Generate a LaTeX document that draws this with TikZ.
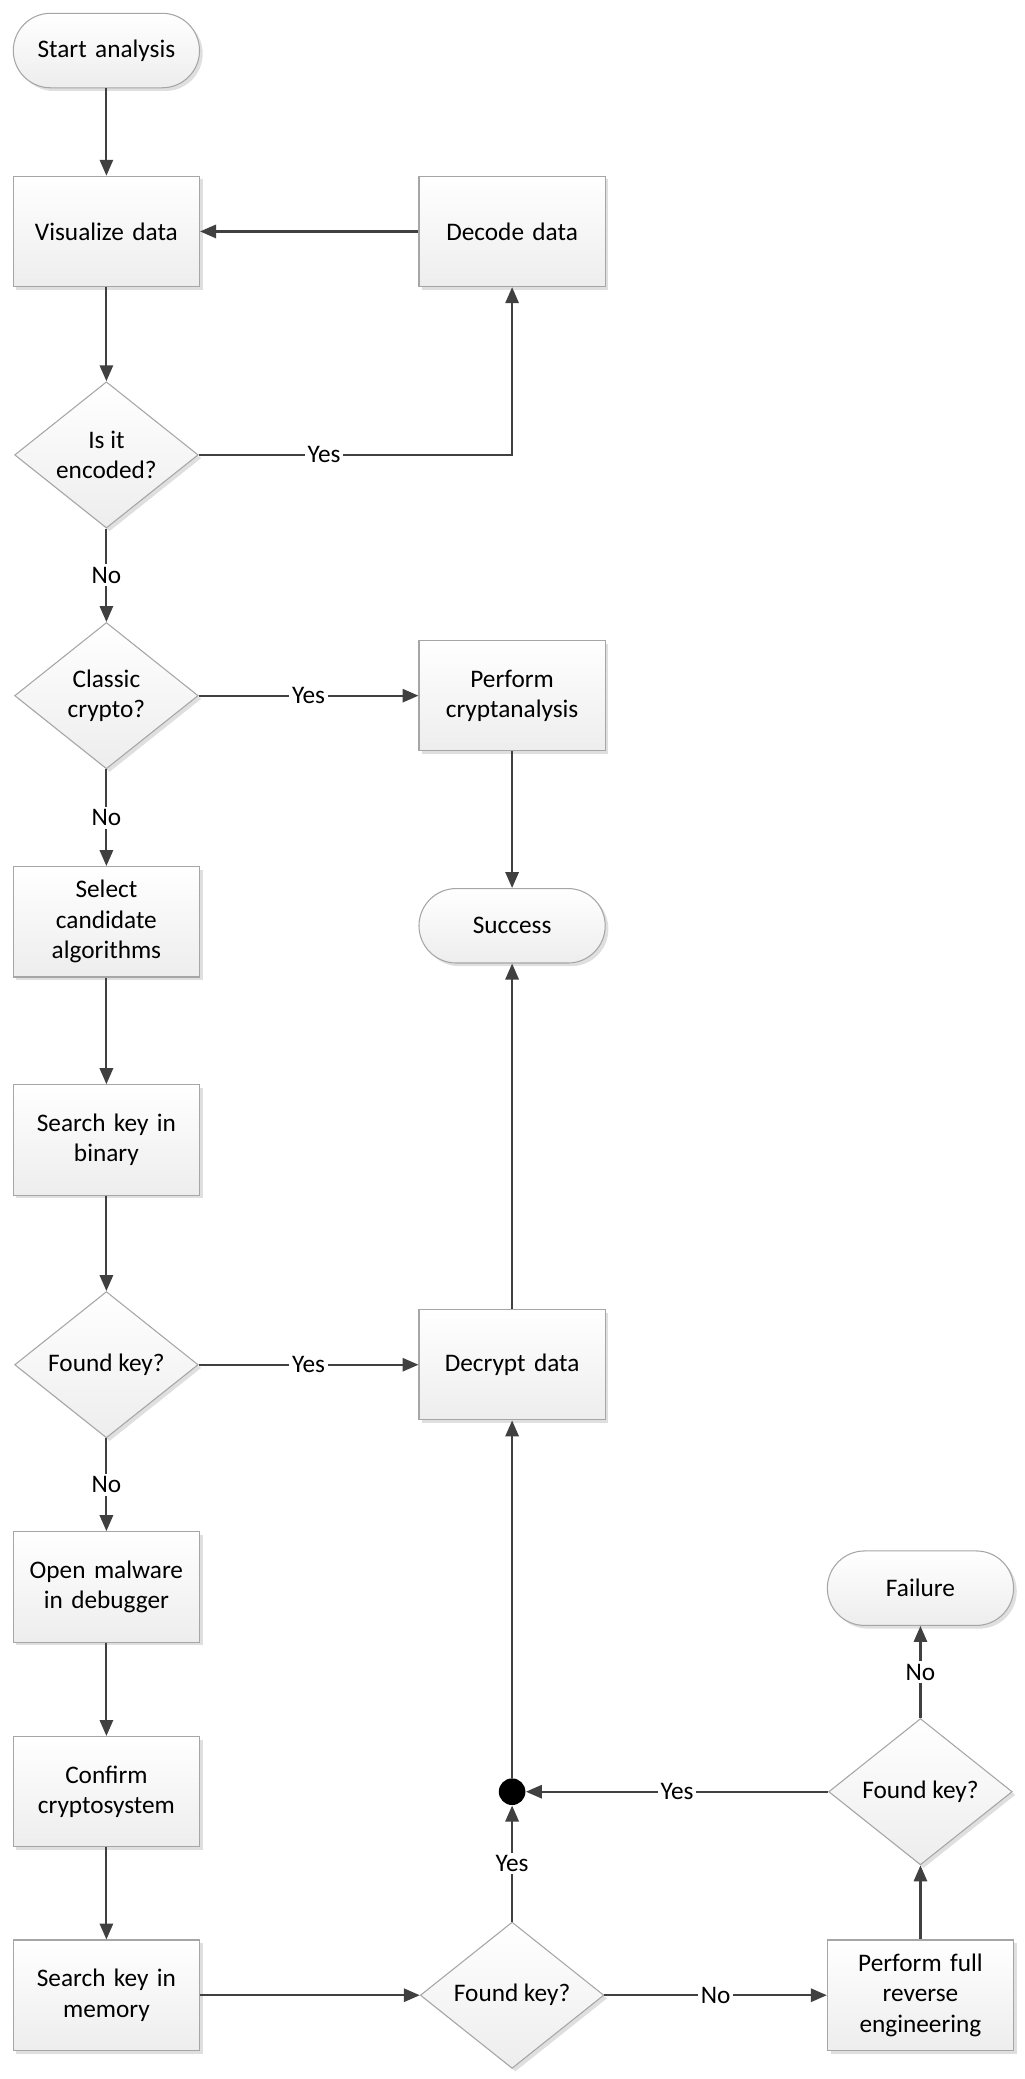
\documentclass[tikz,border=0pt]{standalone}
\usepackage{fontspec}
\setmainfont{Carlito}
\usetikzlibrary{shapes.geometric,shadows,arrows.meta}
\definecolor{lineclr}{HTML}{404040}
\tikzset{
  box/.style={draw=gray!70,top color=white,bottom color=gray!14,drop shadow={opacity=0.25,shadow xshift=1.2pt,shadow yshift=-1.2pt},
    minimum width=70pt,minimum height=41.5pt,align=center,text width=62pt,inner sep=1pt},
  term/.style={box,rounded corners=14pt,minimum height=28pt},
  dec/.style={draw=gray!70,top color=white,bottom color=gray!14,diamond,aspect=1.25,minimum width=69pt,minimum height=55pt,
    align=center,inner sep=0pt,drop shadow={opacity=0.25,shadow xshift=1.2pt,shadow yshift=-1.2pt}},
  flow/.style={draw=lineclr,line width=0.8pt,-{Triangle[length=6pt,width=5pt]}},
  lbl/.style={fill=white,inner sep=1pt}
}
\begin{document}
\begin{tikzpicture}[x=0.5pt,y=-0.5pt,font=\fontsize{9.5}{11.5}\selectfont]
    \useasboundingbox (0,0) rectangle (770,1563);

    \node [term] (start)   at (80,38)   {Start analysis};
    \node [box]  (visual)  at (80,174)  {Visualize data};
    \node [box]  (decode)  at (385,174) {Decode data};
    \node [dec]  (encoded) at (80,342)  {Is it\\encoded?};
    \node [dec]  (classic) at (80,523)  {Classic\\crypto?};
    \node [box]  (crypta)  at (385,523) {Perform\\cryptanalysis};
    \node [term] (success) at (385,696) {Success};
    \node [box]  (select)  at (80,693)  {Select\\candidate\\algorithms};
    \node [box]  (binary)  at (80,857)  {Search key in\\binary};
    \node [dec]  (foundA)  at (80,1026) {Found key?};
    \node [box]  (decrypt) at (385,1026) {Decrypt data};
    \node [box]  (debug)   at (80,1193) {Open malware\\in debugger};
    \node [box]  (confirm) at (80,1347) {Confirm\\cryptosystem};
    \node [box]  (memory)  at (80,1500) {Search key in\\memory};
    \node [dec]  (foundB)  at (385,1500) {Found key?};
    \node [box]  (reverse) at (692,1500) {Perform full\\reverse\\engineering};
    \node [dec]  (foundC)  at (692,1347) {Found key?};
    \node [term] (failure) at (692,1194) {Failure};
    \node [circle,fill=black,minimum size=10pt,inner sep=0pt] (join) at (385,1347) {};

    \draw [flow] (start) -- (visual);
    \draw [flow] (decode) -- (visual);
    \draw [flow] (visual) -- (encoded);
    \draw [flow] (encoded.east) -- node[lbl,pos=0.4] {Yes} (385,342) -- (decode);
    \draw [flow] (encoded) -- node[lbl] {No} (classic);
    \draw [flow] (classic) -- node[lbl] {Yes} (crypta);
    \draw [flow] (crypta) -- (success);
    \draw [flow] (classic) -- node[lbl] {No} (select);
    \draw [flow] (select) -- (binary);
    \draw [flow] (binary) -- (foundA);
    \draw [flow] (foundA) -- node[lbl] {Yes} (decrypt);
    \draw [flow] (decrypt) -- (success);
    \draw [flow] (foundA) -- node[lbl] {No} (debug);
    \draw [flow] (debug) -- (confirm);
    \draw [flow] (confirm) -- (memory);
    \draw [flow] (memory) -- (foundB);
    \draw [flow] (foundB) -- node[lbl] {No} (reverse);
    \draw [flow] (reverse) -- (foundC);
    \draw [flow] (foundC) -- node[lbl] {No} (failure);
    \draw [flow] (foundC) -- node[lbl] {Yes} (join);
    \draw [flow] (foundB) -- node[lbl] {Yes} (join);
    \draw [flow] (join) -- (decrypt);
\end{tikzpicture}
\end{document}
